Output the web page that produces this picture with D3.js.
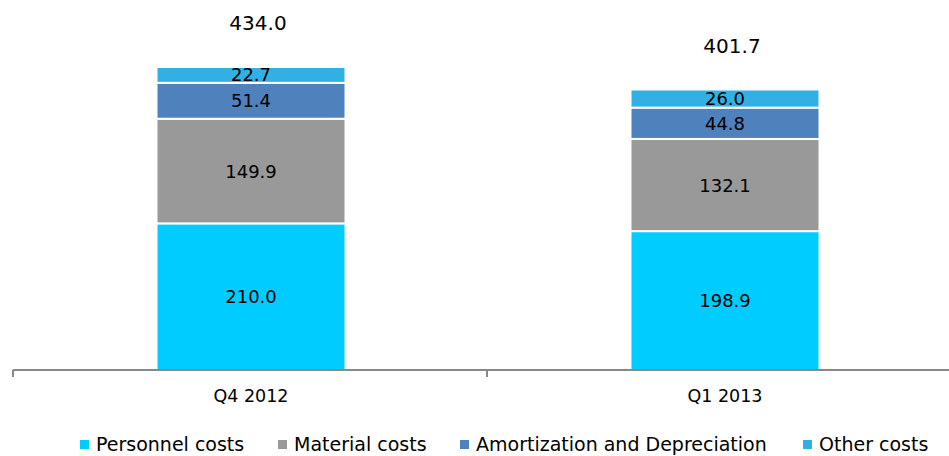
<!DOCTYPE html>
<html><head><meta charset="utf-8">
<script src="https://cdn.jsdelivr.net/npm/d3@7"></script>
<style>body{margin:0;background:#fff}svg{display:block}text{font-family:"DejaVu Sans",sans-serif;fill:#000}</style>
</head><body>
<svg id="c" width="949" height="456"></svg>
<script>
const categories = ["Q4 2012", "Q1 2013"];
const seriesNames = ["Personnel costs", "Material costs", "Amortization and Depreciation", "Other costs"];
const personnel = [210.0, 198.9];
const material = [149.9, 132.1];
const amortization = [51.4, 44.8];
const other = [22.7, 26.0];
const totals = [434.0, 401.7];
const colors = ["#00CCFF", "#999999", "#4F81BD", "#33B0E3"];

const svg = d3.select("#c");
const seriesVals = [personnel, material, amortization, other];
const data = categories.map((c, i) => {
  const o = {cat: c};
  seriesNames.forEach((s, j) => o[s] = seriesVals[j][i]);
  return o;
});
const stack = d3.stack().keys(seriesNames)(data);

const x = d3.scaleBand().domain(categories).range([13, 961]).paddingInner(0).paddingOuter(0);
const y = d3.scaleLinear().domain([0, 434]).range([370, 67]);
const bw = 189;

const g = svg.append("g");
stack.forEach((layer, j) => {
  g.selectAll(null).data(layer).enter().append("rect")
    .attr("x", d => x(d.data.cat) + x.bandwidth()/2 - bw/2 + 1)
    .attr("width", bw)
    .attr("y", d => y(d[1]))
    .attr("height", d => y(d[0]) - y(d[1]))
    .attr("fill", colors[j])
    .attr("stroke", "#fff").attr("stroke-width", 2);
  g.selectAll(null).data(layer).enter().append("text")
    .attr("x", d => x(d.data.cat) + x.bandwidth()/2 + 1)
    .attr("y", d => (y(d[0]) + y(d[1]))/2 + 6.5)
    .attr("text-anchor", "middle")
    .style("font-size", "18px")
    .text(d => d3.format(".1f")(d[1] - d[0]));
});

// totals
svg.selectAll(".tot").data(categories).enter().append("text")
  .attr("x", d => x(d) + x.bandwidth()/2 + 8)
  .attr("y", (d, i) => y(totals[i]) - 37)
  .attr("text-anchor", "middle")
  .style("font-size", "20px")
  .text((d, i) => d3.format(".1f")(totals[i]));

// axis
const axis = svg.append("g").attr("transform", "translate(0,370)");
axis.append("line").attr("x1", 13).attr("x2", 961).attr("stroke", "#888").attr("stroke-width", 2);
[13, ...categories.map(c => x(c) + x.bandwidth())].forEach(t => {
  axis.append("line").attr("x1", t).attr("x2", t).attr("y1", 0).attr("y2", 7).attr("stroke", "#888").attr("stroke-width", 2);
});
axis.selectAll("text.cat").data(categories).enter().append("text")
  .attr("x", d => x(d) + x.bandwidth()/2 + 1)
  .attr("y", 32)
  .attr("text-anchor", "middle")
  .style("font-size", "17.5px")
  .text(d => d);

// legend
const legX = [80, 278, 460, 803];
const leg = svg.append("g");
seriesNames.forEach((s, j) => {
  leg.append("rect").attr("x", legX[j]).attr("y", 440).attr("width", 9).attr("height", 9).attr("fill", colors[j]);
  leg.append("text").attr("x", legX[j] + 16).attr("y", 451).style("font-size", "19px").text(s);
});
</script>
</body></html>
